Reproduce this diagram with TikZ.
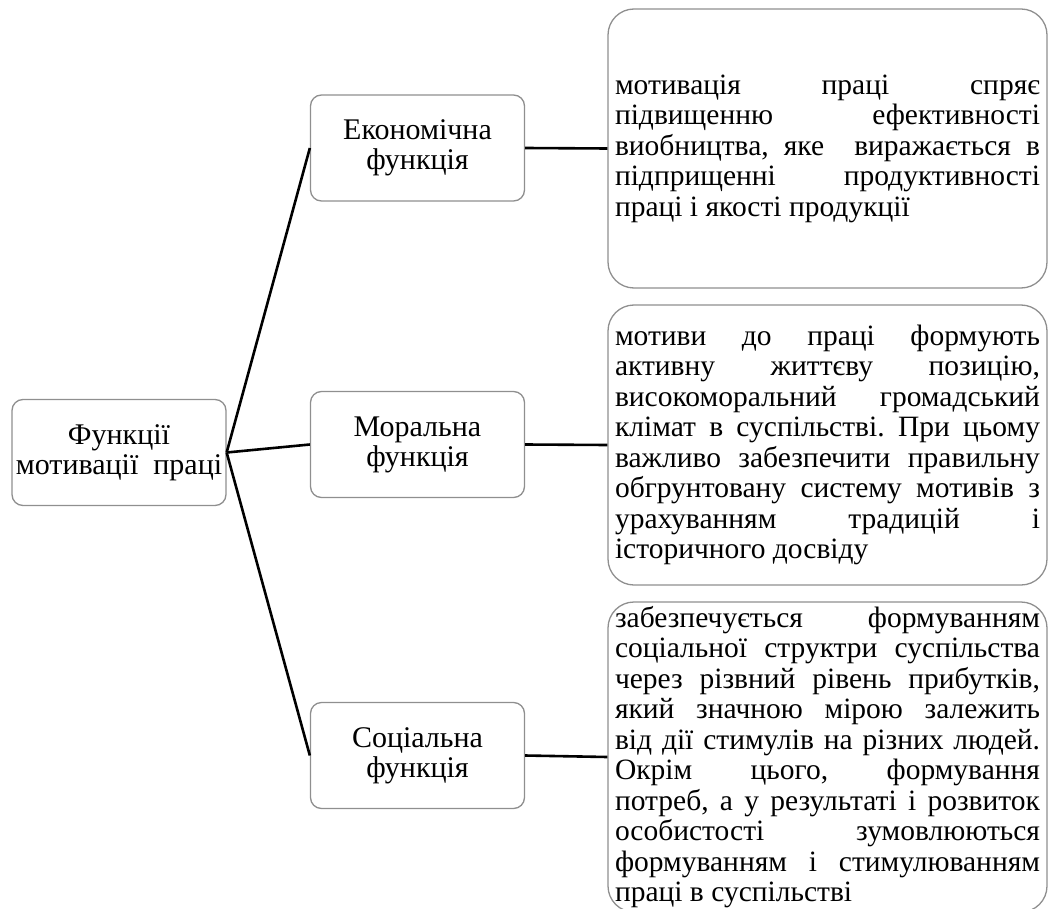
\documentclass[tikz,border=0pt]{standalone}
\usepackage{fontspec}
\setmainfont{Liberation Serif}
\frenchspacing
\usetikzlibrary{positioning}
\definecolor{cframe}{HTML}{8F8F8F}
\tikzset{
  every picture/.style={x=1pt, y=-1pt},
  fbox/.style={draw=cframe, line width=1.3pt, rounded corners=11pt, align=center, minimum width=214pt, minimum height=106pt, inner sep=0pt, font=\fontsize{30}{30}\selectfont},
  dbox/.style={draw=cframe, line width=1.3pt, rounded corners=26pt, text width=425pt, inner xsep=7pt, inner ysep=0pt, align=justify, minimum height=#1, font=\fontsize{29.5}{30.5}\selectfont},
  link/.style={draw=black, line width=2.6pt},
}

\begin{document}
\begin{tikzpicture}
  \useasboundingbox (0,0) rectangle (1051,909);
  % root and the three functions
  \node[fbox] (root) at (119,452.5) {Функції\\мотивації\ \ праці};
  \node[fbox] (econ) at (417.5,148) {Економічна\\функція};
  \node[fbox] (moral) at (417.5,444.5) {Моральна\\функція};
  \node[fbox] (social) at (417.5,755.5) {Соціальна\\функція};
  % descriptions
  \node[dbox=279pt] (econtxt) at (827.5,148.5) {мотивація праці спряє\linebreak
    підвищенню ефективності\linebreak
    виобництва, яке\ \ виражається в\linebreak
    підприщенні продуктивності\linebreak
    праці і якості продукції};
  \node[dbox=280pt] (moraltxt) at (827.5,445) {мотиви до праці формують\linebreak
    активну життєву позицію,\linebreak
    високоморальний громадський\linebreak
    клімат в суспільстві. При цьому\linebreak
    важливо забезпечити правильну\linebreak
    обгрунтовану систему мотивів з\linebreak
    урахуванням традицій і\linebreak
    історичного досвіду};
  \node[dbox=310pt] (socialtxt) at (827.5,757) {забезпечується формуванням\linebreak
    соціальної структри суспільства\linebreak
    через різвний рівень прибутків,\linebreak
    який значною мірою залежить\linebreak
    від дії стимулів на різних людей.\linebreak
    Окрім цього, формування\linebreak
    потреб, а у результаті і розвиток\linebreak
    особистості зумовлюються\linebreak
    формуванням і стимулюванням\linebreak
    праці в суспільстві};
  \foreach \f in {econ, moral, social} {
    \draw[link] (root.east) -- (\f.west);
    \draw[link] (\f.east) -- (\f txt.west);
  }
\end{tikzpicture}
\end{document}
